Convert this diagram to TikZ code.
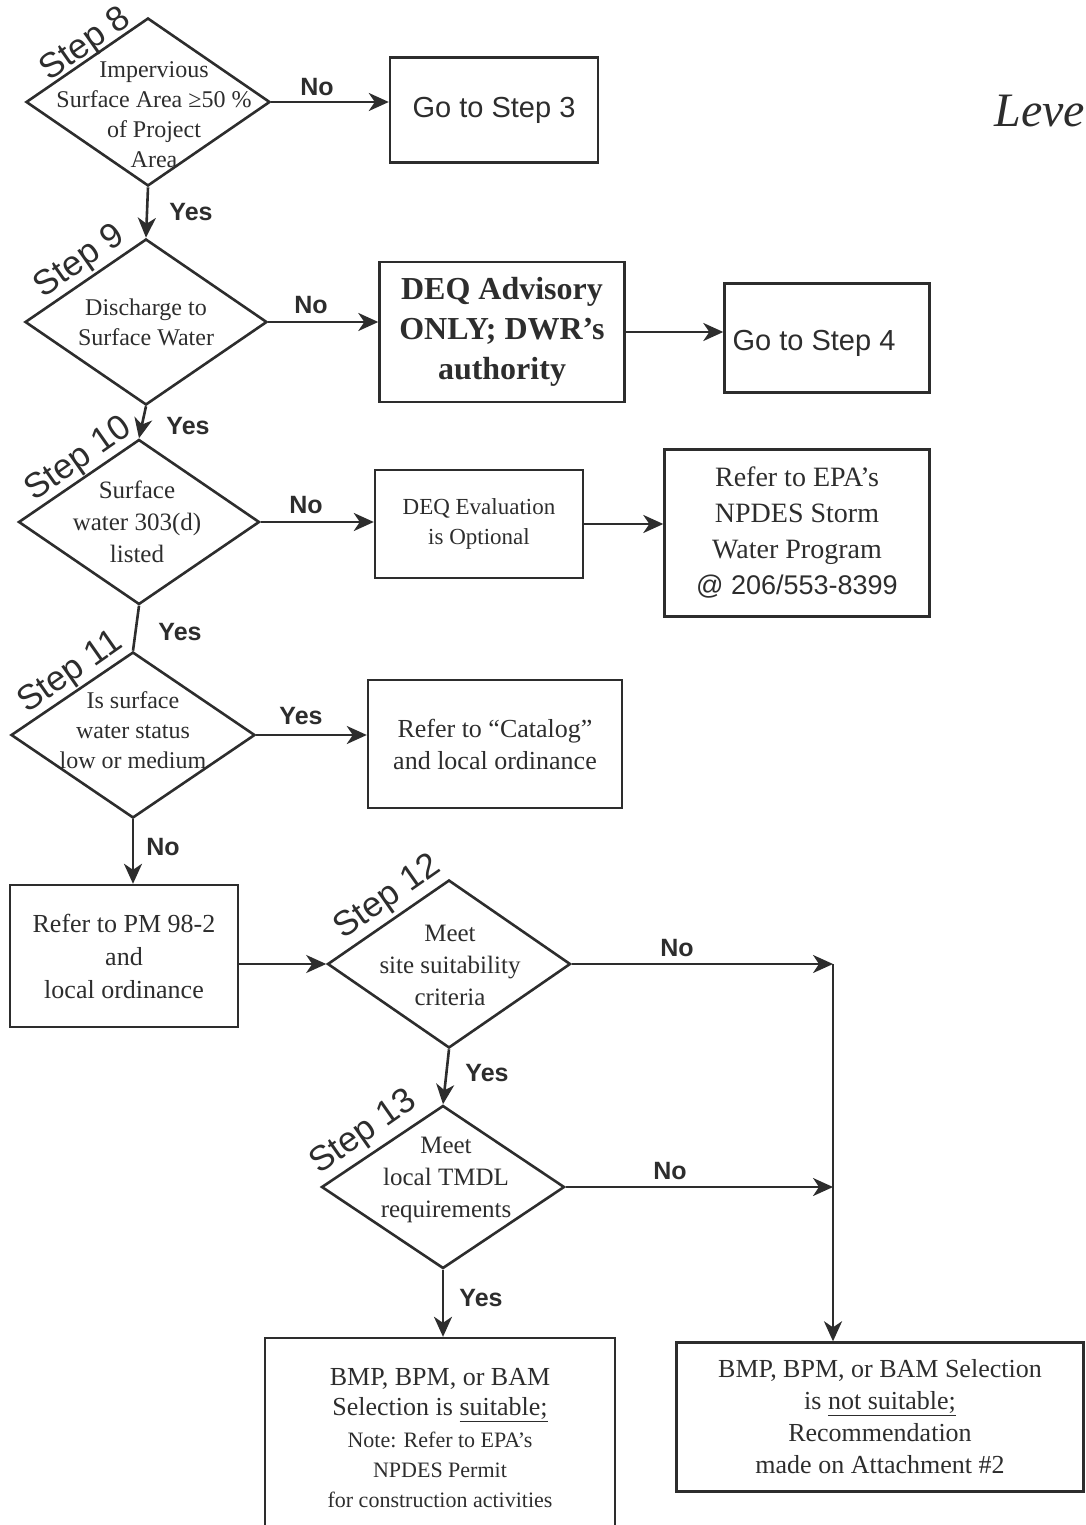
\documentclass[tikz,border=0pt]{standalone}
\usepackage{fontspec}
\setmainfont{Liberation Serif}
\newfontfamily\sfx{Liberation Sans}
\usetikzlibrary{shapes.geometric,arrows.meta}
\definecolor{ink}{RGB}{45,45,45}
\begin{document}
\begin{tikzpicture}[x=1pt,y=-1pt,
  line width=2.6pt, draw=ink, text=ink,
  dia/.style={diamond, draw, inner sep=0pt},
  box/.style={rectangle, draw, inner sep=0pt, align=center, line width=2.4pt},
  dtxt/.style={align=center, font=\fontsize{24}{30}\selectfont, inner sep=0pt},
  yn/.style={font=\sfx\bfseries\fontsize{25}{25}\selectfont, inner sep=0pt},
  steplbl/.style={font=\sfx\fontsize{35}{35}\selectfont, rotate=35, inner sep=0pt},
  arr/.style={-{Stealth[length=20pt,width=18pt,inset=6pt]}},
]
\useasboundingbox (0,0) rectangle (1086,1525);
\clip (0,0) rectangle (1086,1525);

% diamonds
\node[dia, minimum width=244pt, minimum height=168pt] (d8) at (148,102) {};
\node[dtxt] (t8) at (154,115) {Impervious\\Surface Area ≥50 \%\\of Project\\Area};
\node[steplbl] (s8) at (86,45) {Step 8};

\node[dia, minimum width=242pt, minimum height=166pt] (d9) at (146,322) {};
\node[dtxt] (t9) at (146,322) {Discharge to\\Surface Water};
\node[steplbl] (s9) at (80,262) {Step 9};

\node[dia, minimum width=241pt, minimum height=165pt] (d10) at (139,522) {};
\node[dtxt, font=\fontsize{25}{32}\selectfont] (t10) at (137,522) {Surface\\water 303(d)\\listed};
\node[steplbl] (s10) at (79,460) {Step 10};

\node[dia, minimum width=244pt, minimum height=166pt] (d11) at (133,735) {};
\node[dtxt] (t11) at (133,730) {Is surface\\water status\\low or medium};
\node[steplbl] (s11) at (71,673) {Step 11};

\node[dia, minimum width=243pt, minimum height=168pt] (d12) at (449,964) {};
\node[dtxt, font=\fontsize{25}{32}\selectfont] (t12) at (450,965) {Meet\\site suitability\\criteria};
\node[steplbl] (s12) at (388,898) {Step 12};

\node[dia, minimum width=243pt, minimum height=163pt] (d13) at (443,1187) {};
\node[dtxt, font=\fontsize{25}{32}\selectfont] (t13) at (446,1180) {Meet\\local TMDL\\requirements};
\node[steplbl] (s13) at (364,1133) {Step 13};

% boxes
\node[box, minimum width=208pt, minimum height=105pt, font=\sfx\fontsize{29}{29}\selectfont] (go3) at (494,110) {Go to Step 3};
\node[box, minimum width=245pt, minimum height=140pt, font=\bfseries\fontsize{32}{40}\selectfont] (adv) at (502,332) {DEQ Advisory\\ONLY; DWR’s\\authority};
\node[box, minimum width=205pt, minimum height=109pt] (go4) at (827,338) {};
\node[font=\sfx\fontsize{29}{29}\selectfont, inner sep=0pt] (go4t) at (814,343) {Go to Step 4};
\node[box, minimum width=208pt, minimum height=108pt, font=\fontsize{23}{30}\selectfont] (eval) at (479,524) {DEQ Evaluation\\is Optional};
\node[box, minimum width=265pt, minimum height=167pt, font=\fontsize{28}{36}\selectfont] (epa) at (797,533) {Refer to EPA’s\\NPDES Storm\\Water Program\\{\sfx\fontsize{27}{36}\selectfont @ 206/553-8399}};
\node[box, minimum width=254pt, minimum height=128pt, font=\fontsize{26}{32}\selectfont] (cat) at (495,744) {Refer to “Catalog”\\and local ordinance};
\node[box, minimum width=228pt, minimum height=142pt, font=\fontsize{26}{33}\selectfont] (pm) at (124,956) {Refer to PM 98-2\\and\\local ordinance};
\node[box, minimum width=350pt, minimum height=200pt, font=\fontsize{26}{30}\selectfont] (suit) at (440,1438) {BMP, BPM, or BAM\\Selection is \underline{suitable;}\\[2pt]{\fontsize{22}{29}\selectfont Note: Refer to EPA’s}\\{\fontsize{22}{29}\selectfont NPDES Permit}\\{\fontsize{22}{29}\selectfont for construction activities}};
\node[box, minimum width=407pt, minimum height=149pt, font=\fontsize{26}{32}\selectfont] (nsuit) at (880,1417) {BMP, BPM, or BAM Selection\\is \underline{not suitable;}\\Recommendation\\made on Attachment \#2};

\node[anchor=base west, font=\itshape\fontsize{48}{48}\selectfont, inner sep=0pt] (level) at (993,127) {Level};

% junction points
\coordinate (j1) at (833,964);
\coordinate (j2) at (833,1187);

% connectors
\draw[arr] (d8.east) -- (d8.east -| go3.west);
\draw[arr] (d8.south) -- (d9.north);
\draw[arr] (d9.east) -- (d9.east -| adv.west);
\draw[arr] (adv.east) -- (adv.east -| go4.west);
\draw[arr] (d9.south) -- (d10.north);
\draw[arr] (d10.east) -- (d10.east -| eval.west);
\draw[arr] (eval.east) -- (eval.east -| epa.west);
\draw (d10.south) -- (d11.north);
\draw[arr] (d11.east) -- (d11.east -| cat.west);
\draw[arr] (d11.south) -- (d11.south |- pm.north);
\draw[arr] (pm.east |- d12.west) -- (d12.west);
\draw[arr] (d12.east) -- (j1);
\draw[arr] (j1) -- (j1 |- nsuit.north);
\draw[arr] (d12.south) -- (d13.north);
\draw[arr] (d13.east) -- (j2);
\draw[arr] (d13.south) -- (d13.south |- suit.north);

% labels
\node[yn] (n8) at (317,87) {No};
\node[yn] (y8) at (191,212) {Yes};
\node[yn] (n9) at (311,305) {No};
\node[yn] (y9) at (188,426) {Yes};
\node[yn] (n10) at (306,505) {No};
\node[yn] (y10) at (180,632) {Yes};
\node[yn] (y11) at (301,716) {Yes};
\node[yn] (n11) at (163,847) {No};
\node[yn] (n12) at (677,948) {No};
\node[yn] (y12) at (487,1073) {Yes};
\node[yn] (n13) at (670,1171) {No};
\node[yn] (y13) at (481,1298) {Yes};
\end{tikzpicture}
\end{document}
